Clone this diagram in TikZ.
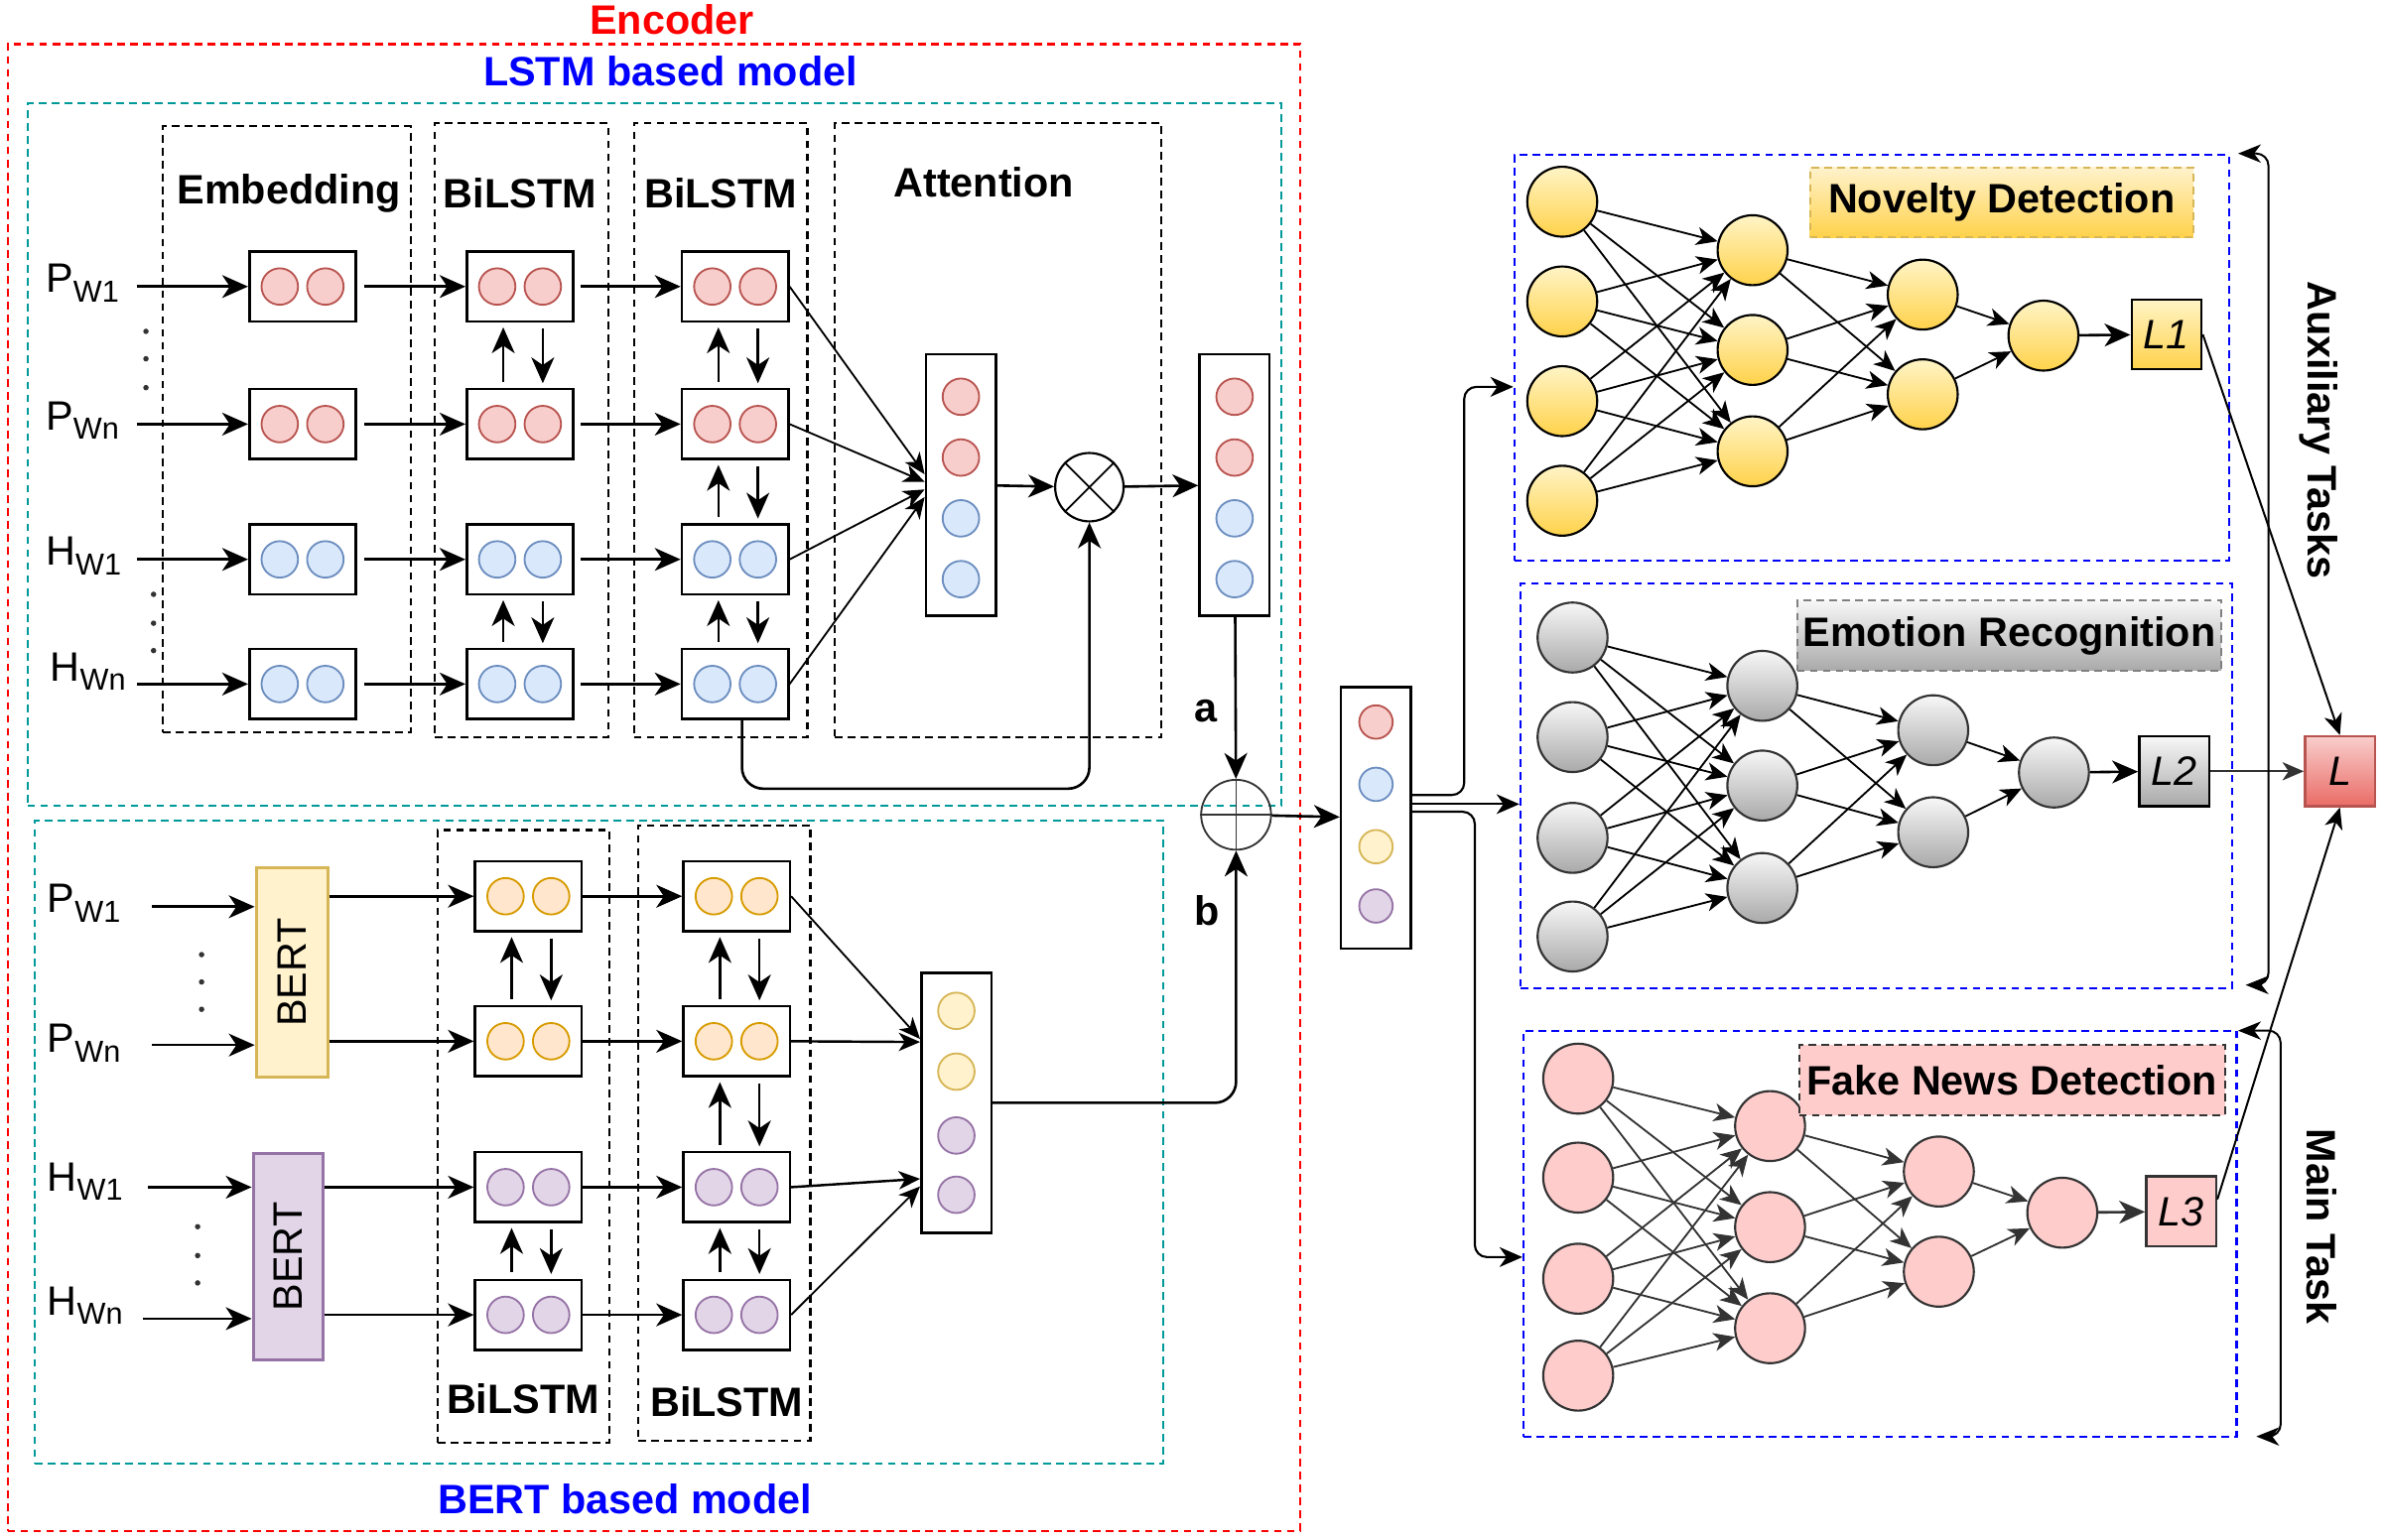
\documentclass[tikz,border=0pt]{standalone}
\usepackage{fontspec}
\setmainfont{Liberation Sans}
\usetikzlibrary{arrows.meta,calc,fit}

\definecolor{rfill}{HTML}{F8CECC}
\definecolor{rdraw}{HTML}{B85450}
\definecolor{bfill}{HTML}{DAE8FC}
\definecolor{bdraw}{HTML}{6C8EBF}
\definecolor{ofill}{HTML}{FFE6CC}
\definecolor{odraw}{HTML}{D79B00}
\definecolor{yfill}{HTML}{FFF2CC}
\definecolor{ydraw}{HTML}{D6B656}
\definecolor{pfill}{HTML}{E1D5E7}
\definecolor{pdraw}{HTML}{9673A6}
\definecolor{teal2}{RGB}{0,153,153}
\definecolor{blue2}{RGB}{0,0,255}
\definecolor{red2}{RGB}{255,0,0}
\definecolor{nytop}{HTML}{FFF4C6}
\definecolor{nybot}{HTML}{FFD24A}
\definecolor{ngtop}{HTML}{F7F7F7}
\definecolor{ngbot}{HTML}{A9A9A9}
\definecolor{pink2}{HTML}{FFCCCC}
\definecolor{dk}{HTML}{333333}
\definecolor{ltop}{HTML}{F8CECC}
\definecolor{lbot}{HTML}{EA6B66}

\newcommand{\cellrow}[4]{%
 \node[cellb] (#1) at (#2,#3) {};
 \node[#4] (#1a) at ($(#1.center)+(-15,0)$) {};
 \node[#4] (#1b) at ($(#1.center)+(15,0)$) {};}
\newcommand{\wl}[2]{#1\raisebox{-6pt}{\fontsize{20}{20}\selectfont #2}}

\begin{document}
\begin{tikzpicture}[x=1pt,y=-1pt,
  every node/.style={font=\fontsize{27}{30}\selectfont},
  hb/.style={font=\fontsize{27}{30}\selectfont\bfseries},
  arr/.style={-{Stealth[length=17pt,width=15pt,inset=5pt]}, line width=1.7pt},
  varr/.style={arr, shorten <=4pt, shorten >=3pt},
  tarr/.style={-{Stealth[length=14pt,width=12pt,inset=4pt]}, line width=1.2pt},
  marr/.style={-{Stealth[length=15pt,width=13pt,inset=4.5pt]}, line width=1.4pt},
  dsh/.style={dash pattern=on 5pt off 3.5pt, line width=1.4pt},
  col/.style={draw=black, dsh, inner sep=0pt},
  cellb/.style={draw, line width=1.7pt, minimum width=70pt, minimum height=46pt, inner sep=0pt},
  vecb/.style={draw, line width=1.7pt, minimum width=46pt, minimum height=172pt, inner sep=0pt},
  dt/.style={circle, minimum size=24pt, inner sep=0pt, line width=1.2pt},
  rc/.style={dt, fill=rfill, draw=rdraw},
  bc/.style={dt, fill=bfill, draw=bdraw},
  oc/.style={dt, fill=ofill, draw=odraw},
  yc/.style={dt, fill=yfill, draw=ydraw},
  pc/.style={dt, fill=pfill, draw=pdraw},
  nnb/.style={circle, minimum size=46pt, inner sep=0pt, line width=1.4pt},
  ny/.style={nnb, draw=black, top color=nytop, bottom color=nybot},
  ng/.style={nnb, draw=dk, top color=ngtop, bottom color=ngbot},
  np/.style={nnb, draw=dk, fill=pink2},
  lossb/.style={draw, line width=1.6pt, minimum width=46pt, minimum height=46pt, inner sep=0pt, font=\fontsize{27}{30}\selectfont\itshape},
  tbox/.style={dsh, inner sep=0pt, minimum height=46pt, font=\fontsize{27}{30}\selectfont\bfseries},
  sdot/.style={circle, fill=black!80, minimum size=3.6pt, inner sep=0pt},
  brk/.style={{Stealth[length=15pt,width=12pt,inset=4.5pt]}-{Stealth[length=15pt,width=12pt,inset=4.5pt]}, line width=1.3pt, rounded corners=8pt},
]
\useasboundingbox (0,0) rectangle (1568,1013);

% containers
\node[fit={(5,29) (855,1007)}, draw=red2, dsh, inner sep=0pt] (enc) {};
\node[fit={(18,68) (843,530)}, draw=teal2, dsh, inner sep=0pt] (lstmbox) {};
\node[fit={(23,540) (765,963)}, draw=teal2, dsh, inner sep=0pt] (bertbox) {};
\node[fit={(107,83) (270,482)}, col] (embcol) {};
\node[fit={(286,81) (400,485)}, col] (l1col) {};
\node[fit={(417,81) (531,485)}, col] (l2col) {};
\node[fit={(549,81) (764,485)}, col] (attcol) {};
\node[fit={(288,546) (401,949)}, col] (b1col) {};
\node[fit={(420,543) (533,948)}, col] (b2col) {};
\node[fit={(996,102) (1466,369)}, draw=blue2, dsh, inner sep=0pt] (nov) {};
\node[fit={(1000,384) (1468,650)}, draw=blue2, dsh, inner sep=0pt] (emo) {};
\node[fit={(1002,678) (1471,945)}, draw=blue2, dsh, inner sep=0pt] (fake) {};

% titles
\node[hb, text=red2] (tenc) at (442,13) {Encoder};
\node[hb, text=blue2] (tlstm) at (441,47) {LSTM based model};
\node[hb, text=blue2] (tbert) at (411,986) {BERT based model};
\node[hb] (temb) at (190,127) {Embedding};
\node[hb] (tbl1) at (342,127) {BiLSTM};
\node[hb] (tbl2) at (474,127) {BiLSTM};
\node[hb] (tatt) at (647,120) {Attention};
\node[hb] (tbl3) at (344,920) {BiLSTM};
\node[hb] (tbl4) at (478,922) {BiLSTM};
\node[hb] (ta) at (793,468) {a};
\node[hb] (tb) at (794,599) {b};
\node[hb, rotate=-90] (taux) at (1525,283) {Auxiliary Tasks};
\node[hb, rotate=-90] (tmain) at (1527,807) {Main Task};

% input labels LSTM
\node[anchor=base west, inner sep=0pt] (lp1) at (30,192.5) {\wl{P}{W1}};
\node[anchor=base west, inner sep=0pt] (lp2) at (30,283) {\wl{P}{Wn}};
\node[anchor=base west, inner sep=0pt] (lh1) at (30,372) {\wl{H}{W1}};
\node[anchor=base west, inner sep=0pt] (lh2) at (33,448) {\wl{H}{Wn}};
% input labels BERT
\node[anchor=base west, inner sep=0pt] (mp1) at (31,600.5) {\wl{P}{W1}};
\node[anchor=base west, inner sep=0pt] (mp2) at (31,692.5) {\wl{P}{Wn}};
\node[anchor=base west, inner sep=0pt] (mh1) at (31,783.5) {\wl{H}{W1}};
\node[anchor=base west, inner sep=0pt] (mh2) at (31,865) {\wl{H}{Wn}};

\foreach \p [count=\k] in {(96,218),(96,236),(96,255),(101,391),(101,410),(101,428),(132.6,628),(132.6,646),(132.6,664),(130,807),(130,826),(130,844)}
  \node[sdot] (dot\k) at \p {};

% LSTM cells
\cellrow{e1}{199}{188.5}{rc}
\cellrow{e2}{199}{279}{rc}
\cellrow{e3}{199}{368}{bc}
\cellrow{e4}{199}{450}{bc}
\cellrow{a1}{342}{188.5}{rc}
\cellrow{a2}{342}{279}{rc}
\cellrow{a3}{342}{368}{bc}
\cellrow{a4}{342}{450}{bc}
\cellrow{b1}{483.5}{188.5}{rc}
\cellrow{b2}{483.5}{279}{rc}
\cellrow{b3}{483.5}{368}{bc}
\cellrow{b4}{483.5}{450}{bc}

\coordinate (s1) at (90,188.5);
\coordinate (s2) at (90,279);
\coordinate (s3) at (90,368);
\coordinate (s4) at (90,450);
\foreach \i in {1,2,3,4}{
  \draw[arr] (s\i) -- (e\i);
  \draw[arr, shorten <=5pt] (e\i) -- (a\i);
  \draw[arr, shorten <=4pt] (a\i) -- (b\i);
}
\foreach \u/\l in {a1/a2, a3/a4, b1/b2, b2/b3, b3/b4}{
  \draw[varr] ([xshift=-11pt]\l.north) -- ([xshift=-11pt]\u.south);
  \draw[varr] ([xshift=15pt]\u.south) -- ([xshift=15pt]\l.north);
}

% attention
\node[vecb] (att) at (632,319) {};
\node[rc] (att1) at (632,261) {};
\node[rc] (att2) at (632,301) {};
\node[bc] (att3) at (632,341) {};
\node[bc] (att4) at (632,381) {};
\node[vecb] (outv) at (812,319) {};
\node[rc] (outv1) at (812,261) {};
\node[rc] (outv2) at (812,301) {};
\node[bc] (outv3) at (812,341) {};
\node[bc] (outv4) at (812,381) {};
\node[circle, draw, line width=1.4pt, minimum size=45pt, inner sep=0pt] (otimes) at (716.5,320.5) {};
\draw[line width=1.1pt] (otimes.north west) -- (otimes.south east) (otimes.north east) -- (otimes.south west);
\node[circle, draw=dk, line width=1.2pt, minimum size=46pt, inner sep=0pt] (oplus) at (813,536) {};
\draw[line width=1.2pt, draw=dk] (oplus.north) -- (oplus.south) (oplus.west) -- (oplus.east);

\draw[tarr] (b1.east) -- ($(att.west)+(0,-7)$);
\draw[tarr] (b2.east) -- ($(att.west)+(0,-2)$);
\draw[tarr] (b3.east) -- ($(att.west)+(0,3)$);
\draw[tarr] (b4.east) -- ($(att.west)+(0,8)$);
\draw[arr] (att) -- (otimes);
\draw[arr] (otimes) -- (outv);
\draw[arr, rounded corners=14pt] ([xshift=4.5pt]b4.south) -- ++(0,45) -| (otimes.south);

% BERT section
\node[draw=ydraw, fill=yfill, line width=2pt, minimum width=47pt, minimum height=138pt, inner sep=0pt] (bert1) at (192,639.6) {\rotatebox{90}{BERT}};
\node[draw=pdraw, fill=pfill, line width=2pt, minimum width=46pt, minimum height=136pt, inner sep=0pt] (bert2) at (189.5,826.7) {\rotatebox{90}{BERT}};
\coordinate (t1) at (100,596.5);
\coordinate (t2) at (100,687.5);
\coordinate (t3) at (97,781);
\coordinate (t4) at (94,867.5);
\draw[arr] (t1) -- (bert1.west |- t1);
\draw[arr] (t2) -- (bert1.west |- t2);
\draw[arr] (t3) -- (bert2.west |- t3);
\draw[arr] (t4) -- (bert2.west |- t4);

\cellrow{c1}{347.5}{589.6}{oc}
\cellrow{c2}{347.5}{685}{oc}
\cellrow{c3}{347.5}{781}{pc}
\cellrow{c4}{347.5}{865}{pc}
\cellrow{d1}{484.5}{589.6}{oc}
\cellrow{d2}{484.5}{685}{oc}
\cellrow{d3}{484.5}{781}{pc}
\cellrow{d4}{484.5}{865}{pc}
\draw[arr] (bert1.east |- c1) -- (c1.west);
\draw[arr] (bert1.east |- c2) -- (c2.west);
\draw[arr] (bert2.east |- c3) -- (c3.west);
\draw[arr] (bert2.east |- c4) -- (c4.west);
\foreach \i in {1,2,3,4}{
  \draw[arr] (c\i) -- (d\i);
}
\foreach \u/\l in {c1/c2, c3/c4, d1/d2, d2/d3, d3/d4}{
  \draw[varr] ([xshift=-11pt]\l.north) -- ([xshift=-11pt]\u.south);
  \draw[varr] ([xshift=15pt]\u.south) -- ([xshift=15pt]\l.north);
}
\node[vecb, minimum height=171pt] (bv) at (629,725.5) {};
\node[yc] (bv1) at (629,665) {};
\node[yc] (bv2) at (629,705) {};
\node[pc] (bv3) at (629,747) {};
\node[pc] (bv4) at (629,786) {};
\draw[tarr] (d1.east) -- ($(bv.west)+(0,-42)$);
\draw[tarr, line width=1.6pt] (d2.east) -- ($(bv.west)+(0,-40)$);
\draw[tarr, line width=1.6pt] (d3.east) -- ($(bv.west)+(0,50)$);
\draw[tarr] (d4.east) -- ($(bv.west)+(0,55)$);

\draw[arr] (outv) -- (oplus);
\draw[arr, rounded corners=14pt] (bv.east) -| (oplus.south);

% aggregated vector
\node[vecb] (agg) at (905,538) {};
\node[rc, minimum size=22pt] (agg1) at (905,475) {};
\node[bc, minimum size=22pt] (agg2) at (905,516) {};
\node[yc, minimum size=22pt] (agg3) at (905,557) {};
\node[pc, minimum size=22pt] (agg4) at (905,596) {};
\draw[arr] (oplus) -- (agg);

\draw[marr, rounded corners=8pt] ($(agg.east)+(0,-15)$) -- (963,523) -- (963,254.5) -- ($(nov.west)+(0,19)$);
\draw[marr] ($(agg.east)+(0,-9)$) -- ($(emo.west)+(0,12)$);
\draw[marr, rounded corners=8pt] ($(agg.east)+(0,-4)$) -- (970,534) -- (970,827) -- ($(fake.west)+(0,15.5)$);

% neural nets
\foreach \y [count=\i] in {132.7,198.3,263.9,329.4} \node[ny] (n11\i) at (1027.5,\y) {};
\foreach \y [count=\i] in {164.6,230.2,296.9} \node[ny] (n12\i) at (1152.7,\y) {};
\foreach \y [count=\i] in {193.8,259.4} \node[ny] (n13\i) at (1264.6,\y) {};
\node[ny] (n141) at (1344,220.8) {};

\foreach \y [count=\i] in {419.4,484.9,551.2,616.1} \node[ng] (n21\i) at (1034.3,\y) {};
\foreach \y [count=\i] in {451.2,516.8,584.2} \node[ng] (n22\i) at (1159.1,\y) {};
\foreach \y [count=\i] in {480.4,547.5} \node[ng] (n23\i) at (1271.5,\y) {};
\node[ng] (n241) at (1350.9,508.2) {};

\foreach \y [count=\i] in {709.6,774.7,841.2,905} \node[np] (n31\i) at (1038,\y) {};
\foreach \y [count=\i] in {740.8,807.3,873.8} \node[np] (n32\i) at (1164.2,\y) {};
\foreach \y [count=\i] in {770.7,836.6} \node[np] (n33\i) at (1275.2,\y) {};
\node[np] (n341) at (1356.4,797.8) {};

\foreach \t/\ec in {1/black,2/black,3/dk}{
  \foreach \i in {1,2,3,4}{
    \foreach \j in {1,2,3}{
      \draw[tarr, draw=\ec, fill=\ec] (n\t1\i) -- (n\t2\j);
    }
  }
  \foreach \i in {1,2,3}{
    \foreach \j in {1,2}{
      \draw[tarr, draw=\ec, fill=\ec] (n\t2\i) -- (n\t3\j);
    }
  }
  \foreach \i in {1,2}{
    \draw[tarr, draw=\ec, fill=\ec] (n\t3\i) -- (n\t41);
  }
}

% losses
\node[lossb, top color=nytop, bottom color=nybot] (L1b) at (1425,220) {L1};
\node[lossb, top color=ngtop, bottom color=ngbot] (L2b) at (1430,507.4) {L2};
\node[lossb, fill=pink2, draw=dk] (L3b) at (1434.6,797) {L3};
\node[lossb, draw=rdraw, top color=ltop, bottom color=lbot] (Lb) at (1539,507.4) {L};
\draw[arr] (n141) -- (L1b);
\draw[arr] (n241) -- (L2b);
\draw[arr, draw=dk, fill=dk] (n341) -- (L3b);
\draw[tarr, line width=1.3pt] (L1b.east) -- (Lb.north);
\draw[tarr, line width=1.3pt, draw=dk, fill=dk] (L2b.east) -- (Lb.west);
\draw[tarr, line width=1.3pt] ($(L3b.east)+(0,-8)$) -- (Lb.south);

% task labels
\node[tbox, draw=ydraw, top color=yfill, bottom color=nybot, minimum width=252pt] (tnov) at (1316.5,133.2) {Novelty Detection};
\node[tbox, draw=gray, top color=ngtop, bottom color=ngbot, minimum width=279pt] (temo) at (1321.5,418.2) {Emotion Recognition};
\node[tbox, draw=dk, fill=pink2, minimum width=280pt] (tfake) at (1323.3,710.6) {Fake News Detection};

% brackets
\coordinate (ax1) at (1472,101);
\coordinate (ax2) at (1477,648);
\draw[brk] (ax1) -- (1492,101) -- (1492,648) -- (ax2);
\coordinate (mx1) at (1472,678);
\coordinate (mx2) at (1484,945);
\draw[brk] (mx1) -- (1500,678) -- (1500,945) -- (mx2);
\end{tikzpicture}
\end{document}
